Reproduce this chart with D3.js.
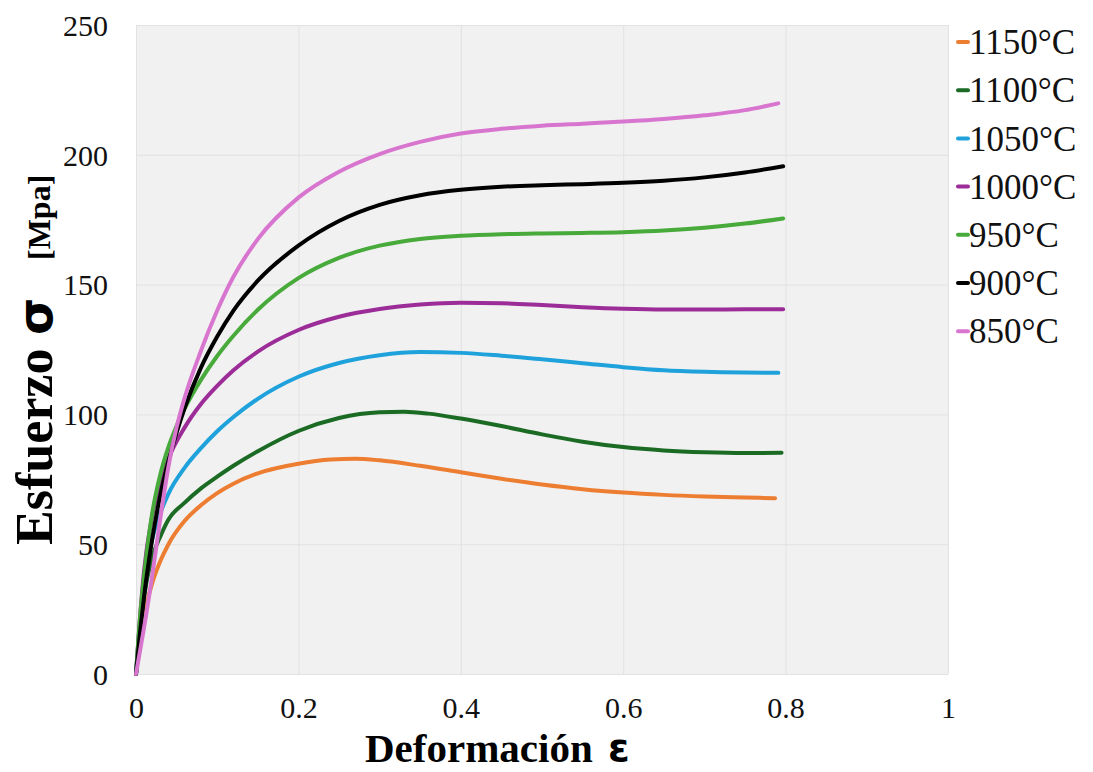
<!DOCTYPE html>
<html>
<head>
<meta charset="utf-8">
<script src="https://cdn.jsdelivr.net/npm/d3@7"></script>
<style>
  html, body { margin: 0; padding: 0; background: #ffffff; }
  svg { display: block; }
</style>
</head>
<body>
<svg id="chart" width="1093" height="772"></svg>
<script>
// ---- data ----
const seriesNames = ["1150°C", "1100°C", "1050°C", "1000°C", "950°C", "900°C", "850°C"];
const seriesColors = ["#ED7D31", "#1B6B25", "#1FA2DC", "#9C2C98", "#47AA3A", "#000000", "#D875CF"];

const strain1150 = [0, 0.005, 0.01, 0.02, 0.03, 0.04, 0.06, 0.08, 0.1, 0.12, 0.15, 0.2, 0.24, 0.27, 0.3, 0.35, 0.4, 0.45, 0.5, 0.55, 0.6, 0.65, 0.7, 0.75, 0.787];
const stress1150 = [0, 14, 23, 35, 43.5, 50, 59, 65, 69.7, 73.3, 77.3, 81, 82.6, 82.9, 82.3, 80.2, 77.7, 75.2, 73, 71.2, 69.9, 69, 68.4, 68, 67.7];

const strain1100 = [0, 0.005, 0.01, 0.02, 0.03, 0.04, 0.06, 0.08, 0.1, 0.12, 0.15, 0.2, 0.25, 0.3, 0.33, 0.36, 0.4, 0.45, 0.5, 0.55, 0.6, 0.65, 0.7, 0.75, 0.795];
const stress1100 = [0, 17, 30, 45, 53, 59.5, 66, 71.5, 76, 80.2, 85.8, 93.6, 98.6, 100.8, 101, 100.3, 98.4, 95.5, 92.3, 89.5, 87.4, 86.1, 85.4, 85.1, 85.2];

const strain1050 = [0, 0.005, 0.01, 0.02, 0.03, 0.04, 0.06, 0.08, 0.1, 0.12, 0.15, 0.2, 0.25, 0.3, 0.35, 0.4, 0.45, 0.5, 0.55, 0.6, 0.65, 0.7, 0.75, 0.791];
const stress1050 = [0, 20, 35, 52, 62, 69.5, 79.5, 87, 93.5, 99, 106, 114.5, 119.8, 122.8, 124, 123.7, 122.6, 121.2, 119.7, 118.2, 117, 116.4, 116.1, 116];

const strain1000 = [0, 0.005, 0.01, 0.02, 0.03, 0.04, 0.06, 0.08, 0.1, 0.12, 0.15, 0.2, 0.25, 0.3, 0.35, 0.4, 0.45, 0.5, 0.55, 0.6, 0.65, 0.7, 0.75, 0.797];
const stress1000 = [0, 22, 40, 61, 74, 83, 95, 104, 111, 117, 124.2, 132.5, 137.6, 140.6, 142.3, 143, 142.8, 142.1, 141.3, 140.7, 140.4, 140.4, 140.5, 140.5];

const strain950 = [0, 0.005, 0.01, 0.02, 0.03, 0.04, 0.05, 0.06, 0.08, 0.1, 0.12, 0.15, 0.2, 0.25, 0.3, 0.35, 0.4, 0.45, 0.5, 0.55, 0.6, 0.65, 0.7, 0.75, 0.797];
const stress950 = [0, 22, 38, 62, 77, 87.5, 95.5, 102.3, 113.3, 122.5, 130.3, 140.3, 152.5, 160.3, 165, 167.6, 168.8, 169.4, 169.7, 169.9, 170.2, 170.8, 171.9, 173.5, 175.5];

const strain900 = [0, 0.005, 0.01, 0.02, 0.03, 0.04, 0.05, 0.06, 0.08, 0.1, 0.12, 0.15, 0.2, 0.25, 0.3, 0.35, 0.4, 0.45, 0.5, 0.55, 0.6, 0.65, 0.7, 0.75, 0.797];
const stress900 = [0, 16, 30, 52, 69, 82, 93, 102.5, 118, 130, 140, 151.5, 165, 174.5, 180.7, 184.4, 186.5, 187.7, 188.3, 188.7, 189.2, 190, 191.3, 193.2, 195.6];

const strain850 = [0, 0.005, 0.01, 0.02, 0.03, 0.04, 0.05, 0.06, 0.08, 0.1, 0.12, 0.15, 0.2, 0.25, 0.3, 0.35, 0.4, 0.45, 0.5, 0.55, 0.6, 0.65, 0.7, 0.75, 0.791];
const stress850 = [0, 9, 18, 38, 60, 80, 95, 106.5, 124.5, 140, 153, 167.5, 183.5, 193.5, 200.3, 205, 208.2, 210, 211.2, 212, 212.8, 213.8, 215.2, 217.2, 219.8];

const xTicks = [0, 0.2, 0.4, 0.6, 0.8, 1];
const xTickLabels = ["0", "0.2", "0.4", "0.6", "0.8", "1"];
const yTicks = [0, 50, 100, 150, 200, 250];
const yTickLabels = ["0", "50", "100", "150", "200", "250"];

const xLabel = "Deformación";
const xSymbol = "ε";
const yLabel = "Esfuerzo";
const ySymbol = "σ";
const yUnit = "[Mpa]";

// ---- build series ----
const strains = [strain1150, strain1100, strain1050, strain1000, strain950, strain900, strain850];
const stresses = [stress1150, stress1100, stress1050, stress1000, stress950, stress900, stress850];
const series = seriesNames.map((name, i) => ({
  name, color: seriesColors[i],
  points: strains[i].map((e, j) => ({ e, s: stresses[i][j] }))
}));

// ---- layout ----
const svg = d3.select("#chart");
const plot = { left: 136, right: 948, top: 25, bottom: 674 };
const serif = "'Liberation Serif', 'Times New Roman', Times, serif";
const sans = "'DejaVu Sans', 'Liberation Sans', Arial, sans-serif";

const x = d3.scaleLinear().domain([0, 1]).range([plot.left, plot.right]);
const y = d3.scaleLinear().domain([0, 250]).range([plot.bottom, plot.top]);

// plot background
svg.append("rect")
  .attr("x", plot.left).attr("y", plot.top)
  .attr("width", plot.right - plot.left).attr("height", plot.bottom - plot.top)
  .attr("fill", "#f1f1f1");

// gridlines
const grid = svg.append("g");
grid.selectAll("line.h").data(yTicks).join("line")
  .attr("x1", plot.left).attr("x2", plot.right)
  .attr("y1", d => y(d) + 0.5).attr("y2", d => y(d) + 0.5)
  .attr("stroke", "#e2e2e2").attr("stroke-width", 1);
grid.selectAll("line.v").data(xTicks).join("line")
  .attr("y1", plot.top).attr("y2", plot.bottom)
  .attr("x1", d => x(d) + 0.5).attr("x2", d => x(d) + 0.5)
  .attr("stroke", "#e2e2e2").attr("stroke-width", 1);

// axes (labels only, no domain lines)
const xAxis = d3.axisBottom(x).tickValues(xTicks)
  .tickFormat((d, i) => xTickLabels[i]).tickSize(0).tickPadding(0);
const gx = svg.append("g").attr("transform", `translate(0,${plot.bottom})`).call(xAxis);
gx.select(".domain").remove();
gx.selectAll("text")
  .attr("y", 44).attr("dy", null)
  .attr("font-family", serif).attr("font-size", 30).attr("fill", "#111");

const yAxis = d3.axisLeft(y).tickValues(yTicks)
  .tickFormat((d, i) => yTickLabels[i]).tickSize(0).tickPadding(0);
const gy = svg.append("g").attr("transform", `translate(108,0)`).call(yAxis);
gy.select(".domain").remove();
gy.selectAll("text")
  .attr("x", 0).attr("dy", "0.34em")
  .attr("font-family", serif).attr("font-size", 30).attr("fill", "#111");

// lines
const line = d3.line().x(d => x(d.e)).y(d => y(d.s)).curve(d3.curveMonotoneX);
svg.append("g").selectAll("path").data(series).join("path")
  .attr("d", d => line(d.points))
  .attr("fill", "none")
  .attr("stroke", d => d.color)
  .attr("stroke-width", 4)
  .attr("stroke-linecap", "round")
  .attr("stroke-linejoin", "round");

// legend
const legend = svg.append("g");
const legY0 = 42, legDy = 48.2;
const items = legend.selectAll("g").data(series).join("g")
  .attr("transform", (d, i) => `translate(958,${legY0 + i * legDy})`);
items.append("line")
  .attr("x1", 0).attr("x2", 10).attr("y1", 0).attr("y2", 0)
  .attr("stroke", d => d.color).attr("stroke-width", 4).attr("stroke-linecap", "round");
items.append("text")
  .attr("x", 11).attr("y", 0).attr("dy", "0.35em")
  .attr("font-family", serif).attr("font-size", 35).attr("fill", "#111")
  .text(d => d.name);

// axis titles
svg.append("text")
  .attr("x", 365).attr("y", 762)
  .attr("font-family", serif).attr("font-weight", "bold").attr("font-size", 41).attr("fill", "#000")
  .text(xLabel);
svg.append("text")
  .attr("x", 608).attr("y", 761)
  .attr("font-family", sans).attr("font-weight", "bold").attr("font-size", 39).attr("fill", "#000")
  .text(xSymbol);

const yt = svg.append("g").attr("transform", "translate(52,545) rotate(-90)");
yt.append("text").attr("x", 0).attr("y", 0)
  .attr("font-family", serif).attr("font-weight", "bold").attr("font-size", 52).attr("fill", "#000")
  .text(yLabel);
yt.append("text").attr("x", 210).attr("y", 0)
  .attr("font-family", sans).attr("font-weight", "bold").attr("font-size", 48).attr("fill", "#000")
  .text(ySymbol);
yt.append("text").attr("x", 285).attr("y", -2)
  .attr("font-family", serif).attr("font-weight", "bold").attr("font-size", 32).attr("fill", "#000")
  .text(yUnit);
</script>
</body>
</html>
